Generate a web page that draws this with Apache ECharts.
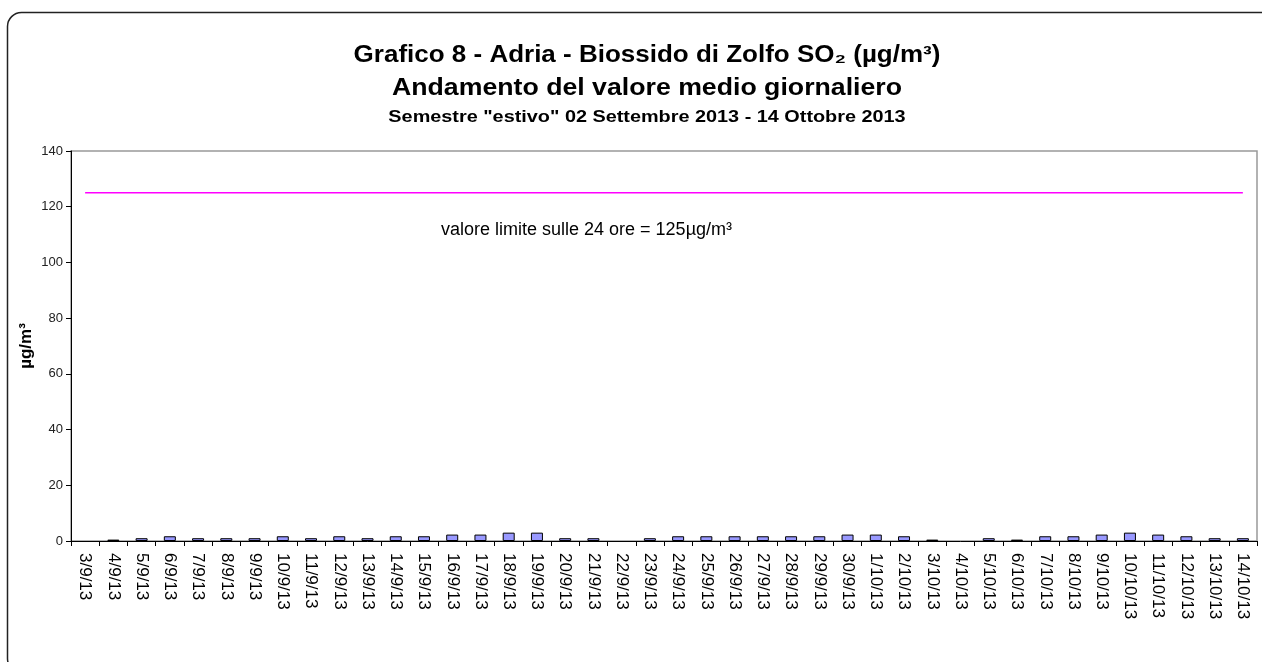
<!DOCTYPE html>
<html>
<head>
<meta charset="utf-8">
<title>Grafico 8 - Adria - SO2</title>
<script src="https://cdn.jsdelivr.net/npm/echarts@6/dist/echarts.min.js"></script>
<style>
  html, body { margin: 0; padding: 0; background: #fff; }
  #chart { width: 1262px; height: 662px; }
</style>
</head>
<body>
<div id="chart"></div>
<script>
// daily dates
const days = [
  "3/9/13", "4/9/13", "5/9/13", "6/9/13", "7/9/13", "8/9/13", "9/9/13",
  "10/9/13", "11/9/13", "12/9/13", "13/9/13", "14/9/13", "15/9/13", "16/9/13",
  "17/9/13", "18/9/13", "19/9/13", "20/9/13", "21/9/13", "22/9/13", "23/9/13",
  "24/9/13", "25/9/13", "26/9/13", "27/9/13", "28/9/13", "29/9/13", "30/9/13",
  "1/10/13", "2/10/13", "3/10/13", "4/10/13", "5/10/13", "6/10/13", "7/10/13",
  "8/10/13", "9/10/13", "10/10/13", "11/10/13", "12/10/13", "13/10/13", "14/10/13"
];

// daily mean SO2 (µg/m³), null = no data
const so2Daily = [
  null, 0.5, 1, 1.7, 1, 1, 1,
  1.7, 1, 1.7, 1, 1.7, 1.7, 2.3,
  2.3, 3, 3, 1, 1, null, 1,
  1.7, 1.7, 1.7, 1.7, 1.7, 1.7, 2.3,
  2.3, 1.7, 0.5, null, 1, 0.5, 1.7,
  1.7, 2.3, 3, 2.3, 1.7, 1, 1
];

// 24h limit value
const limit24h = [
  125, 125, 125, 125, 125, 125, 125, 125, 125, 125, 125, 125, 125, 125,
  125, 125, 125, 125, 125, 125, 125, 125, 125, 125, 125, 125, 125, 125,
  125, 125, 125, 125, 125, 125, 125, 125, 125, 125, 125, 125, 125, 125
];

const yTicks = { min: 0, max: 140, interval: 20 };

const chart = echarts.init(document.getElementById("chart"));
const font = "Liberation Sans, Arial, sans-serif";

// the titles in the original are a bit stretched sideways
function titleText(text, y, size, sx) {
  return {
    type: "text",
    x: 647,
    y: y,
    scaleX: sx,
    silent: true,
    style: {
      x: 0,
      y: 0,
      text: text,
      font: "bold " + size + "px " + font,
      fill: "#000",
      align: "center",
      verticalAlign: "middle"
    }
  };
}

const option = {
  animation: false,
  backgroundColor: "#fff",
  textStyle: { fontFamily: font },
  graphic: [
    {
      type: "rect",
      shape: { x: 7.5, y: 12.5, width: 1270, height: 660, r: 14 },
      style: { fill: "none", stroke: "#222", lineWidth: 1.5 },
      silent: true
    },
    titleText("Grafico 8 - Adria - Biossido di Zolfo SO\u2082 (µg/m³)", 56, 23, 1.13),
    titleText("Andamento del valore medio giornaliero", 89, 23, 1.16),
    titleText('Semestre "estivo" 02 Settembre 2013 - 14 Ottobre 2013', 118, 16, 1.24),
    {
      type: "text",
      left: 441,
      top: 221,
      style: {
        text: "valore limite sulle 24 ore = 125µg/m³",
        font: "18px " + font,
        fill: "#000"
      }
    }
  ],
  grid: {
    left: 71,
    right: 5,
    top: 151,
    bottom: 121,
    show: true,
    borderColor: "#999",
    borderWidth: 1.5
  },
  xAxis: {
    type: "category",
    data: days,
    axisLine: { lineStyle: { color: "#000", width: 1 } },
    axisTick: { show: true, length: 5, lineStyle: { color: "#000" } },
    axisLabel: {
      rotate: -90,
      interval: 0,
      margin: 12,
      fontSize: 17,
      color: "#000",
      fontFamily: font
    },
    splitLine: { show: false }
  },
  yAxis: {
    type: "value",
    min: yTicks.min,
    max: yTicks.max,
    interval: yTicks.interval,
    name: "µg/m³",
    nameLocation: "middle",
    nameGap: 36,
    nameMoveOverlap: false,
    nameTextStyle: { fontSize: 17, fontWeight: "bold", color: "#000", fontFamily: font },
    axisLine: { show: true, lineStyle: { color: "#000", width: 1 } },
    axisTick: { show: true, length: 5, lineStyle: { color: "#000" } },
    axisLabel: { fontSize: 13, color: "#222", margin: 8, fontFamily: font },
    splitLine: { show: false }
  },
  series: [
    {
      name: "SO2",
      type: "bar",
      data: so2Daily,
      barWidth: 12,
      itemStyle: { color: "#9999FF", borderColor: "#000", borderWidth: 1 }
    },
    {
      name: "Valore limite",
      type: "line",
      data: limit24h,
      symbol: "none",
      lineStyle: { color: "#FF00FF", width: 1.5 },
      z: 3
    }
  ]
};

chart.setOption(option);
</script>
</body>
</html>
